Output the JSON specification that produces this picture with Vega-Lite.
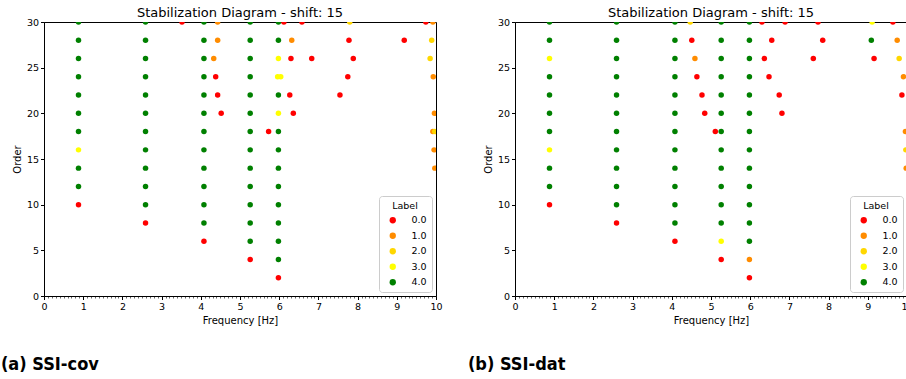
{
  "$schema": "https://vega.github.io/schema/vega-lite/v6.json",
  "padding": {"top": 6, "left": 0, "right": 0, "bottom": 0},
  "background": "white",
  "config": {
    "font": "DejaVu Sans",
    "view": {"stroke": "black", "strokeWidth": 1},
    "axis": {"grid": false, "labelFontSize": 9.5, "titleFontSize": 10, "titleFontWeight": "normal", "labelColor": "black", "titleColor": "black", "tickColor": "black", "domainColor": "black", "labelPadding": 2, "titlePadding": 4, "tickSize": 3.5},
    "title": {"fontSize": 13, "fontWeight": "normal", "color": "black"}
  },
  "datasets": {
    "cov": [
      {"freq": 0.88, "order": 30, "label": "4.0"}, {"freq": 0.88, "order": 28, "label": "4.0"}, {"freq": 0.88, "order": 26, "label": "4.0"}, {"freq": 0.88, "order": 24, "label": "4.0"}, {"freq": 0.88, "order": 22, "label": "4.0"}, {"freq": 0.88, "order": 20, "label": "4.0"}, {"freq": 0.88, "order": 18, "label": "4.0"}, {"freq": 0.88, "order": 16, "label": "3.0"}, {"freq": 0.88, "order": 14, "label": "4.0"}, {"freq": 0.88, "order": 12, "label": "4.0"}, {"freq": 0.88, "order": 10, "label": "0.0"},
      {"freq": 2.59, "order": 30, "label": "4.0"}, {"freq": 2.59, "order": 28, "label": "4.0"}, {"freq": 2.59, "order": 26, "label": "4.0"}, {"freq": 2.59, "order": 24, "label": "4.0"}, {"freq": 2.59, "order": 22, "label": "4.0"}, {"freq": 2.59, "order": 20, "label": "4.0"}, {"freq": 2.59, "order": 18, "label": "4.0"}, {"freq": 2.59, "order": 16, "label": "4.0"}, {"freq": 2.59, "order": 14, "label": "4.0"}, {"freq": 2.59, "order": 12, "label": "4.0"}, {"freq": 2.59, "order": 10, "label": "4.0"}, {"freq": 2.59, "order": 8, "label": "0.0"},
      {"freq": 4.08, "order": 30, "label": "4.0"}, {"freq": 4.08, "order": 28, "label": "4.0"}, {"freq": 4.08, "order": 26, "label": "4.0"}, {"freq": 4.08, "order": 24, "label": "4.0"}, {"freq": 4.08, "order": 22, "label": "4.0"}, {"freq": 4.08, "order": 20, "label": "4.0"}, {"freq": 4.08, "order": 18, "label": "4.0"}, {"freq": 4.08, "order": 16, "label": "4.0"}, {"freq": 4.08, "order": 14, "label": "4.0"}, {"freq": 4.08, "order": 12, "label": "4.0"}, {"freq": 4.08, "order": 10, "label": "4.0"}, {"freq": 4.08, "order": 8, "label": "4.0"}, {"freq": 4.08, "order": 6, "label": "0.0"},
      {"freq": 5.26, "order": 30, "label": "4.0"}, {"freq": 5.26, "order": 28, "label": "4.0"}, {"freq": 5.26, "order": 26, "label": "4.0"}, {"freq": 5.26, "order": 24, "label": "4.0"}, {"freq": 5.26, "order": 22, "label": "4.0"}, {"freq": 5.26, "order": 20, "label": "4.0"}, {"freq": 5.26, "order": 18, "label": "4.0"}, {"freq": 5.26, "order": 16, "label": "4.0"}, {"freq": 5.26, "order": 14, "label": "4.0"}, {"freq": 5.26, "order": 12, "label": "4.0"}, {"freq": 5.26, "order": 10, "label": "4.0"}, {"freq": 5.26, "order": 8, "label": "4.0"}, {"freq": 5.26, "order": 6, "label": "4.0"}, {"freq": 5.26, "order": 4, "label": "0.0"},
      {"freq": 5.98, "order": 30, "label": "4.0"}, {"freq": 5.98, "order": 28, "label": "4.0"}, {"freq": 5.98, "order": 26, "label": "3.0"}, {"freq": 5.96, "order": 24, "label": "3.0"}, {"freq": 6.04, "order": 24, "label": "3.0"}, {"freq": 5.98, "order": 22, "label": "4.0"}, {"freq": 5.98, "order": 20, "label": "3.0"}, {"freq": 5.98, "order": 18, "label": "4.0"}, {"freq": 5.98, "order": 16, "label": "4.0"}, {"freq": 5.98, "order": 14, "label": "4.0"}, {"freq": 5.98, "order": 12, "label": "4.0"}, {"freq": 5.98, "order": 10, "label": "4.0"}, {"freq": 5.98, "order": 8, "label": "4.0"}, {"freq": 5.98, "order": 6, "label": "4.0"}, {"freq": 5.98, "order": 4, "label": "4.0"}, {"freq": 5.98, "order": 2, "label": "0.0"},
      {"freq": 3.52, "order": 30, "label": "0.0"}, {"freq": 4.43, "order": 30, "label": "1.0"}, {"freq": 4.43, "order": 28, "label": "1.0"}, {"freq": 4.33, "order": 26, "label": "1.0"}, {"freq": 4.38, "order": 24, "label": "0.0"}, {"freq": 4.43, "order": 22, "label": "0.0"}, {"freq": 4.52, "order": 20, "label": "0.0"},
      {"freq": 6.12, "order": 30, "label": "0.0"}, {"freq": 6.58, "order": 30, "label": "0.0"}, {"freq": 7.8, "order": 30, "label": "2.0"}, {"freq": 9.74, "order": 30, "label": "0.0"}, {"freq": 9.92, "order": 30, "label": "1.0"},
      {"freq": 6.32, "order": 28, "label": "1.0"}, {"freq": 7.78, "order": 28, "label": "0.0"}, {"freq": 9.19, "order": 28, "label": "0.0"}, {"freq": 9.89, "order": 28, "label": "2.0"},
      {"freq": 6.3, "order": 26, "label": "0.0"}, {"freq": 6.83, "order": 26, "label": "0.0"}, {"freq": 7.89, "order": 26, "label": "0.0"}, {"freq": 9.85, "order": 26, "label": "2.0"},
      {"freq": 7.75, "order": 24, "label": "0.0"}, {"freq": 9.93, "order": 24, "label": "1.0"},
      {"freq": 6.27, "order": 22, "label": "0.0"}, {"freq": 7.55, "order": 22, "label": "0.0"},
      {"freq": 6.36, "order": 20, "label": "0.0"}, {"freq": 9.96, "order": 20, "label": "1.0"},
      {"freq": 5.73, "order": 18, "label": "0.0"}, {"freq": 9.92, "order": 18, "label": "1.0"}, {"freq": 9.97, "order": 18, "label": "2.0"},
      {"freq": 9.95, "order": 16, "label": "1.0"}, {"freq": 9.97, "order": 14, "label": "1.0"}
    ],
    "dat": [
      {"freq": 0.88, "order": 30, "label": "4.0"}, {"freq": 0.88, "order": 28, "label": "4.0"}, {"freq": 0.88, "order": 26, "label": "3.0"}, {"freq": 0.88, "order": 24, "label": "4.0"}, {"freq": 0.88, "order": 22, "label": "4.0"}, {"freq": 0.88, "order": 20, "label": "4.0"}, {"freq": 0.88, "order": 18, "label": "4.0"}, {"freq": 0.88, "order": 16, "label": "3.0"}, {"freq": 0.88, "order": 14, "label": "4.0"}, {"freq": 0.88, "order": 12, "label": "4.0"}, {"freq": 0.88, "order": 10, "label": "0.0"},
      {"freq": 2.59, "order": 30, "label": "4.0"}, {"freq": 2.59, "order": 28, "label": "4.0"}, {"freq": 2.59, "order": 26, "label": "4.0"}, {"freq": 2.59, "order": 24, "label": "4.0"}, {"freq": 2.59, "order": 22, "label": "4.0"}, {"freq": 2.59, "order": 20, "label": "4.0"}, {"freq": 2.59, "order": 18, "label": "4.0"}, {"freq": 2.59, "order": 16, "label": "4.0"}, {"freq": 2.59, "order": 14, "label": "4.0"}, {"freq": 2.59, "order": 12, "label": "4.0"}, {"freq": 2.59, "order": 10, "label": "4.0"}, {"freq": 2.59, "order": 8, "label": "0.0"},
      {"freq": 4.08, "order": 30, "label": "4.0"}, {"freq": 4.08, "order": 28, "label": "4.0"}, {"freq": 4.08, "order": 26, "label": "4.0"}, {"freq": 4.08, "order": 24, "label": "4.0"}, {"freq": 4.08, "order": 22, "label": "4.0"}, {"freq": 4.08, "order": 20, "label": "4.0"}, {"freq": 4.08, "order": 18, "label": "4.0"}, {"freq": 4.08, "order": 16, "label": "4.0"}, {"freq": 4.08, "order": 14, "label": "4.0"}, {"freq": 4.08, "order": 12, "label": "4.0"}, {"freq": 4.08, "order": 10, "label": "4.0"}, {"freq": 4.08, "order": 8, "label": "4.0"}, {"freq": 4.08, "order": 6, "label": "0.0"},
      {"freq": 5.26, "order": 30, "label": "4.0"}, {"freq": 5.26, "order": 28, "label": "4.0"}, {"freq": 5.26, "order": 26, "label": "4.0"}, {"freq": 5.26, "order": 24, "label": "4.0"}, {"freq": 5.26, "order": 22, "label": "4.0"}, {"freq": 5.26, "order": 20, "label": "4.0"}, {"freq": 5.26, "order": 18, "label": "4.0"}, {"freq": 5.26, "order": 16, "label": "4.0"}, {"freq": 5.26, "order": 14, "label": "4.0"}, {"freq": 5.26, "order": 12, "label": "4.0"}, {"freq": 5.26, "order": 10, "label": "4.0"}, {"freq": 5.26, "order": 8, "label": "4.0"}, {"freq": 5.26, "order": 6, "label": "3.0"}, {"freq": 5.26, "order": 4, "label": "0.0"},
      {"freq": 5.98, "order": 30, "label": "4.0"}, {"freq": 5.98, "order": 28, "label": "4.0"}, {"freq": 5.98, "order": 26, "label": "4.0"}, {"freq": 5.98, "order": 24, "label": "4.0"}, {"freq": 5.98, "order": 22, "label": "4.0"}, {"freq": 5.98, "order": 20, "label": "4.0"}, {"freq": 5.98, "order": 18, "label": "4.0"}, {"freq": 5.98, "order": 16, "label": "4.0"}, {"freq": 5.98, "order": 14, "label": "4.0"}, {"freq": 5.98, "order": 12, "label": "4.0"}, {"freq": 5.98, "order": 10, "label": "4.0"}, {"freq": 5.98, "order": 8, "label": "4.0"}, {"freq": 5.98, "order": 6, "label": "4.0"}, {"freq": 5.98, "order": 4, "label": "1.0"}, {"freq": 5.98, "order": 2, "label": "0.0"},
      {"freq": 4.47, "order": 30, "label": "2.0"}, {"freq": 4.51, "order": 28, "label": "0.0"}, {"freq": 4.59, "order": 26, "label": "1.0"}, {"freq": 4.64, "order": 24, "label": "0.0"}, {"freq": 4.77, "order": 22, "label": "0.0"}, {"freq": 4.84, "order": 20, "label": "0.0"}, {"freq": 5.11, "order": 18, "label": "0.0"},
      {"freq": 6.3, "order": 30, "label": "0.0"}, {"freq": 6.89, "order": 30, "label": "0.0"}, {"freq": 7.73, "order": 30, "label": "0.0"}, {"freq": 9.11, "order": 30, "label": "3.0"}, {"freq": 9.64, "order": 30, "label": "0.0"},
      {"freq": 6.55, "order": 28, "label": "0.0"}, {"freq": 7.85, "order": 28, "label": "0.0"}, {"freq": 9.09, "order": 28, "label": "4.0"}, {"freq": 9.75, "order": 28, "label": "1.0"},
      {"freq": 6.36, "order": 26, "label": "0.0"}, {"freq": 7.61, "order": 26, "label": "0.0"}, {"freq": 9.16, "order": 26, "label": "0.0"}, {"freq": 9.8, "order": 26, "label": "2.0"},
      {"freq": 6.48, "order": 24, "label": "0.0"}, {"freq": 9.91, "order": 24, "label": "1.0"},
      {"freq": 6.74, "order": 22, "label": "0.0"}, {"freq": 9.87, "order": 22, "label": "0.0"},
      {"freq": 6.81, "order": 20, "label": "0.0"},
      {"freq": 9.96, "order": 18, "label": "1.0"},
      {"freq": 9.97, "order": 16, "label": "2.0"},
      {"freq": 9.98, "order": 14, "label": "1.0"}
    ]
  },
  "hconcat": [
    {
      "title": {"text": "(a) SSI-cov", "orient": "bottom", "anchor": "start", "font": "'DejaVu Sans Condensed', 'Liberation Sans', sans-serif", "fontWeight": "bold", "fontSize": 18, "offset": 30, "dx": -11},
      "resolve": {"legend": {"color": "independent"}},
      "vconcat": [
        {
          "width": 392, "height": 274,
          "title": {"text": "Stabilization Diagram - shift: 15", "offset": -3},
          "data": {"name": "cov"},
          "mark": {"type": "circle", "size": 30, "opacity": 1, "clip": true},
          "encoding": {
            "x": {"field": "freq", "type": "quantitative", "scale": {"domain": [0, 10], "nice": false}, "title": "Frequency [Hz]",
              "axis": {"values": [0,0.1,0.2,0.3,0.4,0.5,0.6,0.7,0.8,0.9,1,1.1,1.2,1.3,1.4,1.5,1.6,1.7,1.8,1.9,2,2.1,2.2,2.3,2.4,2.5,2.6,2.7,2.8,2.9,3,3.1,3.2,3.3,3.4,3.5,3.6,3.7,3.8,3.9,4,4.1,4.2,4.3,4.4,4.5,4.6,4.7,4.8,4.9,5,5.1,5.2,5.3,5.4,5.5,5.6,5.7,5.8,5.9,6,6.1,6.2,6.3,6.4,6.5,6.6,6.7,6.8,6.9,7,7.1,7.2,7.3,7.4,7.5,7.6,7.7,7.8,7.9,8,8.1,8.2,8.3,8.4,8.5,8.6,8.7,8.8,8.9,9,9.1,9.2,9.3,9.4,9.5,9.6,9.7,9.8,9.9,10],
                "labelExpr": "datum.value % 1 === 0 ? format(datum.value, 'd') : ''", "labelOverlap": false, "labelBound": false, "labelFlush": false,
                "tickSize": {"condition": {"test": "datum.value % 1 === 0", "value": 3.5}, "value": 2}, "tickWidth": {"condition": {"test": "datum.value % 1 === 0", "value": 1}, "value": 0.6}, "labelPadding": 2}},
            "y": {"field": "order", "type": "quantitative", "scale": {"domain": [0, 30], "nice": false}, "title": "Order", "axis": {"values": [0, 5, 10, 15, 20, 25, 30]}},
            "color": {"field": "label", "type": "nominal", "scale": {"domain": ["0.0", "1.0", "2.0", "3.0", "4.0"], "range": ["#ff0000", "#ff8c00", "#ffd700", "#ffff00", "#008000"]},
              "legend": {"title": "Label", "orient": "bottom-right", "offset": 4, "titleAnchor": "middle", "titleFontWeight": "normal", "titleFontSize": 9.5, "labelFontSize": 9.5, "symbolSize": 40, "symbolType": "circle", "symbolStrokeWidth": 0, "padding": 5, "strokeColor": "#cccccc", "fillColor": "white", "cornerRadius": 3, "rowPadding": 4.5, "labelOffset": 14, "symbolOffset": 4, "labelColor": "black", "titleColor": "black"}}
          }
        }
      ]
    },
    {
      "title": {"text": "(b) SSI-dat", "orient": "bottom", "anchor": "start", "font": "'DejaVu Sans Condensed', 'Liberation Sans', sans-serif", "fontWeight": "bold", "fontSize": 18, "offset": 30, "dx": -15},
      "resolve": {"legend": {"color": "independent"}},
      "vconcat": [
        {
          "width": 392, "height": 274,
          "title": {"text": "Stabilization Diagram - shift: 15", "offset": -3},
          "data": {"name": "dat"},
          "mark": {"type": "circle", "size": 30, "opacity": 1, "clip": true},
          "encoding": {
            "x": {"field": "freq", "type": "quantitative", "scale": {"domain": [0, 10], "nice": false}, "title": "Frequency [Hz]",
              "axis": {"values": [0,0.1,0.2,0.3,0.4,0.5,0.6,0.7,0.8,0.9,1,1.1,1.2,1.3,1.4,1.5,1.6,1.7,1.8,1.9,2,2.1,2.2,2.3,2.4,2.5,2.6,2.7,2.8,2.9,3,3.1,3.2,3.3,3.4,3.5,3.6,3.7,3.8,3.9,4,4.1,4.2,4.3,4.4,4.5,4.6,4.7,4.8,4.9,5,5.1,5.2,5.3,5.4,5.5,5.6,5.7,5.8,5.9,6,6.1,6.2,6.3,6.4,6.5,6.6,6.7,6.8,6.9,7,7.1,7.2,7.3,7.4,7.5,7.6,7.7,7.8,7.9,8,8.1,8.2,8.3,8.4,8.5,8.6,8.7,8.8,8.9,9,9.1,9.2,9.3,9.4,9.5,9.6,9.7,9.8,9.9,10],
                "labelExpr": "datum.value % 1 === 0 ? format(datum.value, 'd') : ''", "labelOverlap": false, "labelBound": false, "labelFlush": false,
                "tickSize": {"condition": {"test": "datum.value % 1 === 0", "value": 3.5}, "value": 2}, "tickWidth": {"condition": {"test": "datum.value % 1 === 0", "value": 1}, "value": 0.6}, "labelPadding": 2}},
            "y": {"field": "order", "type": "quantitative", "scale": {"domain": [0, 30], "nice": false}, "title": "Order", "axis": {"values": [0, 5, 10, 15, 20, 25, 30]}},
            "color": {"field": "label", "type": "nominal", "scale": {"domain": ["0.0", "1.0", "2.0", "3.0", "4.0"], "range": ["#ff0000", "#ff8c00", "#ffd700", "#ffff00", "#008000"]},
              "legend": {"title": "Label", "orient": "bottom-right", "offset": 4, "titleAnchor": "middle", "titleFontWeight": "normal", "titleFontSize": 9.5, "labelFontSize": 9.5, "symbolSize": 40, "symbolType": "circle", "symbolStrokeWidth": 0, "padding": 5, "strokeColor": "#cccccc", "fillColor": "white", "cornerRadius": 3, "rowPadding": 4.5, "labelOffset": 14, "symbolOffset": 4, "labelColor": "black", "titleColor": "black"}}
          }
        }
      ]
    }
  ],
  "spacing": 24,
  "resolve": {"legend": {"color": "independent"}}
}
